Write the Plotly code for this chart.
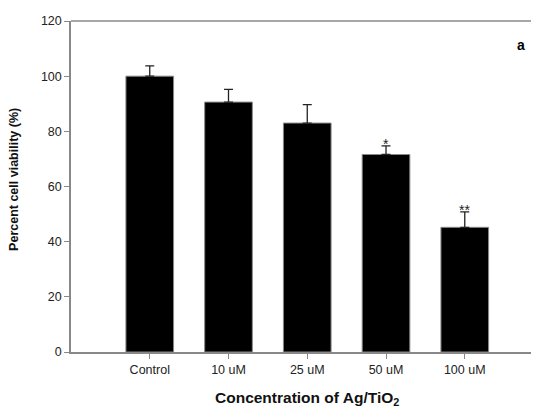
import plotly.graph_objects as go

categories = ["Control", "10 uM", "25 uM", "50 uM", "100 uM"]
viability = [100.0, 90.6, 83.0, 71.6, 45.2]
errors = [3.7, 4.6, 6.7, 3.1, 5.6]
significance = ["", "", "", "*", "**"]
y_ticks = [0, 20, 40, 60, 80, 100, 120]

fig = go.Figure()
fig.add_trace(go.Bar(
    x=categories, y=viability,
    marker=dict(color="black", line=dict(color="#888888", width=1)),
    width=0.605,
    error_y=dict(type="data", array=errors, symmetric=False, arrayminus=[0]*5,
                 color="#222222", thickness=1.3, width=4.5),
    showlegend=False,
))

for c, v, e, s in zip(categories, viability, errors, significance):
    if s:
        fig.add_annotation(x=c, y=v + e, text=s, showarrow=False, yanchor="bottom",
                           yshift=-8, font=dict(family="Liberation Sans", size=14, color="#222"))

fig.add_annotation(xref="paper", yref="paper", x=0.976, y=0.958, text="<b>a</b>",
                   showarrow=False, font=dict(family="Liberation Sans", size=14, color="black"))

# axis titles as annotations for exact placement
fig.add_annotation(xref="paper", yref="paper", x=0.505, y=-0.139, yanchor="middle", xanchor="center",
                   text="<b>Concentration of Ag/TiO<sub>2</sub></b>", showarrow=False,
                   font=dict(family="Liberation Sans", size=15.5, color="#111"))
fig.add_annotation(xref="paper", yref="paper", x=-0.122, y=0.52, xanchor="center", yanchor="middle",
                   text="<b>Percent cell viability (%)</b>", showarrow=False, textangle=-90,
                   font=dict(family="Liberation Sans", size=12.5, color="#111"))

# page body has an 8px default margin, so the figure is sized to fit the 539x408 window
fig.update_layout(
    width=531, height=400,
    margin=dict(l=63, r=1, t=13, b=56),
    plot_bgcolor="white", paper_bgcolor="white",
    font=dict(family="Liberation Sans", size=12.5, color="#222"),
)
fig.update_xaxes(
    range=[-1.0, 4.93], showline=True, linecolor="#888888", linewidth=1.5, mirror=False,
    ticks="outside", ticklen=5, tickcolor="#888888", tickwidth=1, automargin=False,
    tickfont=dict(size=12.5, color="#222"), showgrid=False,
)
fig.update_yaxes(
    range=[0, 120], tickvals=y_ticks, showline=True, linecolor="#888888", linewidth=1.5,
    ticks="outside", ticklen=5, tickcolor="#888888", tickwidth=1, automargin=False,
    tickfont=dict(size=12.5, color="#222"), showgrid=False, zeroline=False,
)
fig.add_shape(type="line", xref="paper", yref="paper", x0=0, x1=1, y0=1, y1=1,
              line=dict(color="#888888", width=1.5))
fig.add_shape(type="line", xref="paper", yref="paper", x0=1, x1=1, y0=0, y1=1,
              line=dict(color="#dddddd", width=1))

fig.write_html("out.html")
